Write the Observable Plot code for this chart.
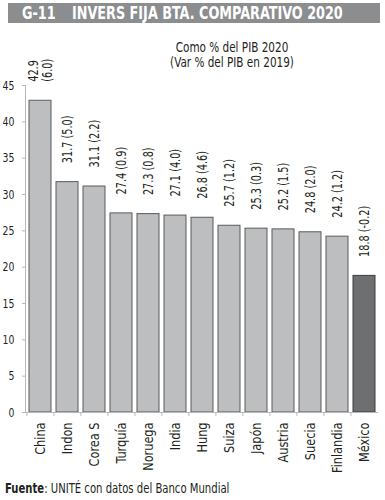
<!DOCTYPE html>
<html>
<head>
<meta charset="utf-8">
<script src="https://cdn.jsdelivr.net/npm/d3@7"></script>
<script src="https://cdn.jsdelivr.net/npm/@observablehq/plot@0.6"></script>
<style>
  html, body { margin: 0; padding: 0; background: #fff; }
  body { width: 385px; height: 500px; position: relative; overflow: hidden;
         font-family: "DejaVu Sans Condensed", sans-serif; color: #231f20; }
  #title { position: absolute; left: 8px; top: 3px; width: 372px; height: 20px; background: #8c8d8f;
           color: #fff; font-weight: bold; font-size: 18px; line-height: 20px; white-space: nowrap; }
  #title span { position: absolute; top: 0; transform: scaleX(0.79); transform-origin: 0 50%; }
  #title .code { left: 14px; }
  #title .main { left: 64px; }
  #subtitle { position: absolute; left: 232px; top: 40px; transform: translateX(-50%) scaleX(0.83);
              text-align: center; font-size: 14px; line-height: 15px; white-space: nowrap; }
  #chart { position: absolute; left: 0; top: 26px; }
  #source { position: absolute; left: 5px; top: 480px; font-size: 14px; white-space: nowrap;
            transform: scaleX(0.8); transform-origin: 0 50%; }
</style>
</head>
<body>
<div id="title"><span class="code">G-11</span><span class="main">INVERS FIJA BTA. COMPARATIVO 2020</span></div>
<div id="subtitle">Como % del PIB 2020<br>(Var % del PIB en 2019)</div>
<div id="chart"></div>
<div id="source"><b>Fuente</b>: UNITÉ con datos del Banco Mundial</div>
<script>
const countries = ["China", "Indon", "Corea S", "Turquía", "Noruega", "India", "Hung", "Suiza", "Japón", "Austria", "Suecia", "Finlandia", "México"];
const pib2020 = [42.9, 31.7, 31.1, 27.4, 27.3, 27.1, 26.8, 25.7, 25.3, 25.2, 24.8, 24.2, 18.8];
const var2019 = [6.0, 5.0, 2.2, 0.9, 0.8, 4.0, 4.6, 1.2, 0.3, 1.5, 2.0, 1.2, -0.2];
const yTicks = [0, 5, 10, 15, 20, 25, 30, 35, 40, 45];

const data = countries.map((c, i) => ({
  country: c,
  value: pib2020[i],
  change: var2019[i],
  label: i === 0
    ? `${pib2020[i].toFixed(1)}\n(${var2019[i].toFixed(1)})`
    : `${pib2020[i].toFixed(1)} (${var2019[i].toFixed(1)})`,
  mexico: c === "México"
}));

const font = "DejaVu Sans Condensed, sans-serif";

const chart = Plot.plot({
  width: 385,
  height: 456,
  marginLeft: 25,
  marginRight: 7,
  marginTop: 59,
  marginBottom: 70,
  style: { fontFamily: font, color: "#231f20", background: "transparent" },
  x: { domain: countries, paddingInner: 0.2, paddingOuter: 0.1, label: null },
  y: { domain: [0, 45], label: null },
  marks: [
    Plot.frame({ anchor: "left", stroke: "#b8b8b8" }),
    Plot.axisY({ ticks: yTicks, tickSize: 3, tickPadding: 8, stroke: "#b8b8b8", fill: "#231f20", fontSize: 13, label: null }),
    Plot.barY(data, {
      x: "country", y: "value",
      fill: d => d.mexico ? "#6e6f71" : "#bdbec0",
      stroke: d => d.mexico ? "#3c3c3e" : "#5a5b5d",
      strokeWidth: 1
    }),
    Plot.ruleY([0], { stroke: "#b8b8b8" }),
    Plot.axisX({ tickSize: 4, tickFormat: () => "", dx: -13.6, stroke: "#b8b8b8", label: null }),
    Plot.axisX({ tickSize: 0, tickPadding: 10, tickRotate: -90, fontSize: 14, fill: "#231f20", label: null }),
    Plot.text(data, {
      x: "country", y: "value", text: "label",
      rotate: -90, textAnchor: "start", dy: -19,
      fontSize: 13.5, fill: "#231f20", lineHeight: 1.0
    })
  ]
});

// condense glyphs along the reading direction (narrow typeface look)
function condense(selector, sx) {
  chart.querySelectorAll(selector).forEach(t => {
    const tr = t.getAttribute("transform") || "";
    t.setAttribute("transform", `${tr} scale(${sx},1)`);
  });
}
condense('g[aria-label="text"] text', 0.8);
condense('g[aria-label="x-axis tick label"] text', 0.9);
condense('g[aria-label="y-axis tick label"] text', 0.8);

document.getElementById("chart").appendChild(chart);
</script>
</body>
</html>
